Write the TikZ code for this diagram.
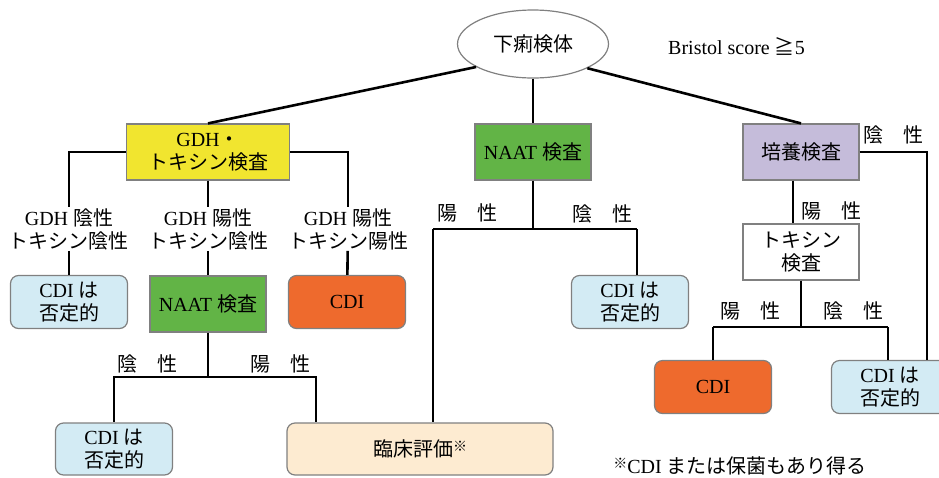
\documentclass[tikz,border=0pt]{standalone}
\usepackage{fontspec}
\setmainfont{Liberation Serif}
\newfontfamily\jpfont{Noto Sans CJK JP}
\newcommand{\ja}[1]{{\jpfont #1}}
\newcommand{\kome}{\raisebox{0.6ex}{\fontsize{14}{14}\selectfont\ja{※}}}
\usetikzlibrary{shapes.geometric}

\definecolor{gdhyellow}{HTML}{F1E52F}
\definecolor{naatgreen}{HTML}{62B446}
\definecolor{culturepurple}{HTML}{C5BCDA}
\definecolor{cdiblue}{HTML}{D3EBF4}
\definecolor{cdiorange}{HTML}{EE6A2D}
\definecolor{clinpeach}{HTML}{FDEBD1}
\definecolor{edgegray}{HTML}{808080}

\begin{document}
\begin{tikzpicture}[
        x=1pt, y=-1pt,
        font=\fontsize{20}{23}\selectfont,
        testbox/.style={
            draw=edgegray,
            line width=1.2pt,
            align=center,
            inner sep=2pt,
            minimum width=116pt,
            minimum height=56pt
        },
        resultbox/.style={
            testbox,
            rounded corners=8pt,
            minimum width=117pt,
            minimum height=53pt
        },
        cond/.style={align=center, inner sep=1pt},
        conn/.style={line width=2.6pt}
    ]

        \useasboundingbox (0,0) rectangle (939,477);

        \node[ellipse, draw=edgegray, line width=1.2pt, minimum width=151pt, minimum height=68pt] (spec) at (533,44)
        {\ja{下痢検体}};

        \node[anchor=west, inner sep=0pt] (bristol) at (668,46)
        {Bristol score \ja{≧}5};

        \node[testbox, fill=gdhyellow, minimum width=163pt] (gdh) at (208,152)
        {GDH\ja{・}\\\ja{トキシン検査}};

        \node[testbox, fill=naatgreen] (naat) at (533,152)
        {NAAT \ja{検査}};

        \node[testbox, fill=culturepurple] (culture) at (801,152)
        {\ja{培養検査}};

        \node[cond] (gdhneg) at (69,229)
        {GDH \ja{陰性}\\\ja{トキシン陰性}};

        \node[cond] (gdhpos) at (208,229)
        {GDH \ja{陽性}\\\ja{トキシン陰性}};

        \node[cond] (toxpos) at (348,229)
        {GDH \ja{陽性}\\\ja{トキシン陽性}};

        \node[resultbox, fill=cdiblue] (neg1) at (69,302)
        {CDI \ja{は}\\\ja{否定的}};

        \node[testbox, fill=naatgreen] (naat2) at (208,304)
        {NAAT \ja{検査}};

        \node[resultbox, fill=cdiorange] (cdi1) at (347,302)
        {CDI};

        \node[cond] (naat2neg) at (147,364) {\ja{陰　性}};
        \node[cond] (naat2pos) at (280,364) {\ja{陽　性}};

        \coordinate (split2) at (208,377);
        \coordinate (split2r) at (316,377);

        \node[resultbox, fill=cdiblue, minimum height=52pt] (neg2) at (114,449)
        {CDI \ja{は}\\\ja{否定的}};

        \node[resultbox, fill=clinpeach, minimum width=266pt, minimum height=52pt] (clinic) at (420,449)
        {\ja{臨床評価}\kome};

        \node[cond] (naatpos) at (467,213) {\ja{陽　性}};
        \node[cond] (naatneg) at (602,214) {\ja{陰　性}};

        \coordinate (split3) at (533,229);
        \coordinate (split3l) at (433,229);
        \coordinate (split3r) at (637,229);

        \node[resultbox, fill=cdiblue] (neg3) at (630,302)
        {CDI \ja{は}\\\ja{否定的}};

        \node[cond] (culneg) at (893,135) {\ja{陰　性}};
        \node[cond] (culpos) at (831,211) {\ja{陽　性}};

        \node[testbox, fill=white] (toxin) at (801,252)
        {\ja{トキシン}\\\ja{検査}};

        \node[cond] (toxinpos) at (750,311) {\ja{陽　性}};
        \node[cond] (toxinneg) at (853,311) {\ja{陰　性}};

        \coordinate (split5) at (801,327);
        \coordinate (split5l) at (713,327);
        \coordinate (split5r) at (888,327);
        \coordinate (loop5) at (927,152);

        \node[resultbox, fill=cdiorange] (cdi2) at (713,387)
        {CDI};

        \node[resultbox, fill=cdiblue] (neg5) at (890,387)
        {CDI \ja{は}\\\ja{否定的}};

        \node (note) at (740,466)
        {\kome CDI \ja{または保菌もあり得る}};

        \draw[conn] (spec.202) -- (gdh.north);
        \draw[conn] (spec) -- (naat);
        \draw[conn] (spec.336) -- (culture.north);
        \draw[conn] (gdh.west) -| (gdhneg.north);
        \draw[conn] (gdh) -- (gdhpos);
        \draw[conn] (gdh.east) -| (toxpos.north);
        \draw[conn] (gdhneg) -- (neg1);
        \draw[conn] (gdhpos) -- (naat2);
        \draw[conn] (toxpos) -- (cdi1);
        \draw[conn] (naat2) -- (split2);
        \draw[conn] (split2) -| (neg2.north);
        \draw[conn] (split2) -- (split2r) -- (split2r |- clinic.north);
        \draw[conn] (naat) -- (split3);
        \draw[conn] (split3l) -- (split3r);
        \draw[conn] (split3l) -- (split3l |- clinic.north);
        \draw[conn] (split3r) -- (split3r |- neg3.north);
        \draw[conn] ([xshift=-8pt]culture.south) -- ([xshift=-8pt]toxin.north);
        \draw[conn] (culture.east) -- (loop5) -- (loop5 |- neg5.north);
        \draw[conn] (toxin) -- (split5);
        \draw[conn] (split5l) -- (split5r);
        \draw[conn] (split5l) -- (cdi2);
        \draw[conn] (split5r) -- (split5r |- neg5.north);

    \end{tikzpicture}
\end{document}
